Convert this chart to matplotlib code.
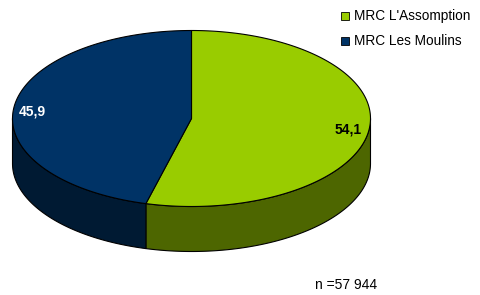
import numpy as np
import matplotlib
matplotlib.use("Agg")
import matplotlib.pyplot as plt
from matplotlib.patches import Polygon, Rectangle

labels = ["MRC L'Assomption", "MRC Les Moulins"]
values = [54.1, 45.9]
value_text = ["54,1", "45,9"]
top_colors = ["#99CC00", "#003366"]
side_colors = ["#4D6600", "#001A33"]
note = "n =57 944"

plt.rcParams["font.family"] = ["Liberation Sans", "DejaVu Sans"]

W, H = 481, 295
fig = plt.figure(figsize=(W / 100, H / 100), dpi=100)
ax = fig.add_axes([0, 0, 1, 1])
ax.set_xlim(0, W)
ax.set_ylim(H, 0)
ax.axis("off")

# ellipse centre, semi-axes and wall height (pixel units)
cx, cy, a, b, depth = 191.5, 118.5, 179, 88, 45


def pt(t, dy=0.0):
    return cx + a * np.cos(t), cy - b * np.sin(t) + dy


# wedges go clockwise from 12 o'clock
fr = np.array(values) / sum(values)
starts = np.pi / 2 - 2 * np.pi * np.concatenate([[0], np.cumsum(fr)[:-1]])
ends = starts - 2 * np.pi * fr

# side walls: only the front half (angles pi..2pi) is visible
for s, e, col in zip(starts, ends, side_colors):
    t0 = max(np.pi, e % (2 * np.pi))
    t1 = min(2 * np.pi, s if s >= np.pi else s + 2 * np.pi)
    if t1 <= t0:
        continue
    t = np.linspace(t0, t1, 200)
    xs, ys = pt(t)
    xb, yb = pt(t[::-1], depth)
    poly = np.column_stack([np.concatenate([xs, xb]), np.concatenate([ys, yb])])
    ax.add_patch(Polygon(poly, closed=True, facecolor=col, edgecolor="black", lw=0.8))

# top faces
for s, e, col in zip(starts, ends, top_colors):
    t = np.linspace(s, e, 300)
    xs, ys = pt(t)
    poly = np.column_stack([np.concatenate([[cx], xs]), np.concatenate([[cy], ys])])
    ax.add_patch(Polygon(poly, closed=True, facecolor=col, edgecolor="black", lw=0.8))

ax.text(362, 130, value_text[0], color="black", fontsize=10, fontweight="bold",
        ha="right", va="center")
ax.text(19, 111, value_text[1], color="white", fontsize=10, fontweight="bold",
        ha="left", va="center")

# legend
for i, (lab, col) in enumerate(zip(labels, top_colors)):
    y = 16 + 25 * i
    ax.add_patch(Rectangle((341, y - 4), 8, 8, facecolor=col, edgecolor="black", lw=0.6))
    ax.text(354, y, lab, fontsize=9.8, ha="left", va="center")

ax.text(315, 285, note, fontsize=10, ha="left", va="center")

fig.savefig("out.png", dpi=100)
